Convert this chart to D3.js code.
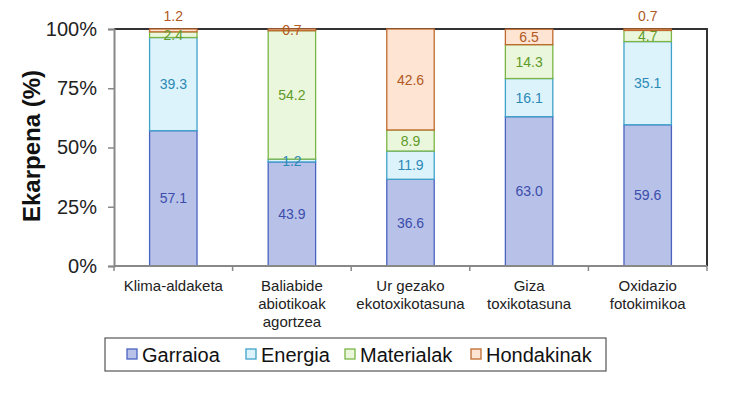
<!DOCTYPE html>
<html>
<head>
<meta charset="utf-8">
<script src="https://cdn.jsdelivr.net/npm/d3@7"></script>
<style>
  body { margin: 0; background: #fff; }
  svg { font-family: Arial, "Liberation Sans", sans-serif; }
</style>
</head>
<body>
<div id="chart"></div>
<script>
// categories and series (percent contribution)
const categories = ['Klima-aldaketa', 'Baliabide abiotikoak agortzea', 'Ur gezako ekotoxikotasuna', 'Giza toxikotasuna', 'Oxidazio fotokimikoa'];
const categoryLines = [['Klima-aldaketa'], ['Baliabide', 'abiotikoak', 'agortzea'], ['Ur gezako', 'ekotoxikotasuna'], ['Giza', 'toxikotasuna'], ['Oxidazio', 'fotokimikoa']];
const seriesNames = ['Garraioa', 'Energia', 'Materialak', 'Hondakinak'];
const garraioa = [57.1, 43.9, 36.6, 63.0, 59.6];
const energia = [39.3, 1.2, 11.9, 16.1, 35.1];
const materialak = [2.4, 54.2, 8.9, 14.3, 4.7];
const hondakinak = [1.2, 0.7, 42.6, 6.5, 0.7];
const yTicks = [0, 25, 50, 75, 100];
// labels drawn above the bar instead of centred in the segment
const labelAbove = ['Klima-aldaketa', 'Oxidazio fotokimikoa'];

const fills = ['#b8c1e8', '#ddf3fc', '#ebf7dc', '#fde4d3'];
const strokes = ['#4a63c0', '#3fa2c9', '#7ab545', '#c0692e'];
const labelColors = ['#3b4dab', '#2b89b6', '#5f9a2a', '#b2591f'];

const W = 748, H = 397;
const margin = {top: 29, right: 41, bottom: 131, left: 114};
const width = W - margin.left - margin.right;
const height = H - margin.top - margin.bottom;

const svg = d3.select('#chart')
  .append('svg')
    .attr('width', W)
    .attr('height', H);

const g = svg.append('g')
  .attr('transform', 'translate(' + margin.left + ',' + margin.top + ')');

const table = categories.map((c, i) => ({
  cat: c,
  Garraioa: garraioa[i],
  Energia: energia[i],
  Materialak: materialak[i],
  Hondakinak: hondakinak[i]
}));
const stacked = d3.stack().keys(seriesNames)(table);

const x = d3.scaleBand()
  .domain(categories)
  .range([0, width])
  .paddingInner(0)
  .paddingOuter(0);
const barW = x.bandwidth() * 0.4;

const y = d3.scaleLinear()
  .domain([0, 100])
  .range([height, 0]);

// plot frame (top and right dark)
g.append('path')
  .attr('d', 'M0,0H' + width + 'V' + height)
  .attr('fill', 'none')
  .attr('stroke', '#333')
  .attr('stroke-width', 2);

// bars
stacked.forEach((s, si) => {
  g.append('g')
    .selectAll('rect')
    .data(s)
    .enter()
    .append('rect')
      .attr('x', d => x(d.data.cat) + (x.bandwidth() - barW) / 2)
      .attr('y', d => y(Math.min(d[1], 100)))
      .attr('width', barW)
      .attr('height', d => y(d[0]) - y(Math.min(d[1], 100)))
      .attr('fill', fills[si])
      .attr('stroke', strokes[si])
      .attr('stroke-width', 1.3);
});

// value labels
stacked.forEach((s, si) => {
  g.append('g')
    .selectAll('text')
    .data(s)
    .enter()
    .append('text')
      .attr('x', d => x(d.data.cat) + x.bandwidth() / 2)
      .attr('y', d => {
        if (si === 3 && labelAbove.includes(d.data.cat)) return y(100) - 13;
        return y((d[0] + Math.min(d[1], 100)) / 2);
      })
      .attr('dy', '0.36em')
      .attr('text-anchor', 'middle')
      .attr('font-size', 14)
      .attr('fill', labelColors[si])
      .text(d => (d[1] - d[0]).toFixed(1));
});

// y axis
const yAxis = g.append('g')
  .call(d3.axisLeft(y).tickValues(yTicks).tickSize(6).tickPadding(11).tickFormat(d => d + '%'));
yAxis.select('.domain').attr('stroke', '#888').attr('stroke-width', 2);
yAxis.selectAll('.tick line').attr('stroke', '#888').attr('stroke-width', 1.5);
yAxis.selectAll('.tick text').attr('font-size', 20).attr('fill', '#222').attr('font-family', 'Arial, "Liberation Sans", sans-serif');

// x axis with ticks on category boundaries
const xAxis = g.append('g')
  .attr('transform', 'translate(0,' + height + ')');
xAxis.append('line')
  .attr('x1', 0).attr('x2', width)
  .attr('stroke', '#888').attr('stroke-width', 2);
xAxis.selectAll('.bound')
  .data(categories.concat(['end']))
  .enter()
  .append('line')
    .attr('x1', (d, i) => i * x.step())
    .attr('x2', (d, i) => i * x.step())
    .attr('y1', 0).attr('y2', 5)
    .attr('stroke', '#888').attr('stroke-width', 1.5);
xAxis.selectAll('.cat')
  .data(categoryLines)
  .enter()
  .append('text')
    .attr('text-anchor', 'middle')
    .attr('font-size', 15)
    .attr('fill', '#222')
    .attr('transform', (d, i) => 'translate(' + (x(categories[i]) + x.bandwidth() / 2) + ',25)')
    .selectAll('tspan')
    .data(d => d)
    .enter()
    .append('tspan')
      .attr('x', 0)
      .attr('y', (d, i) => i * 18)
      .text(d => d);

// y title
svg.append('text')
  .attr('transform', 'translate(40,146) rotate(-90)')
  .attr('text-anchor', 'middle')
  .attr('font-size', 24)
  .attr('font-weight', 'bold')
  .attr('fill', '#111')
  .text('Ekarpena (%)');

// legend
const legend = svg.append('g');
legend.append('rect')
  .attr('x', 105).attr('y', 338)
  .attr('width', 501).attr('height', 33)
  .attr('fill', '#fff')
  .attr('stroke', '#555')
  .attr('stroke-width', 1.2);
const legendX = [127, 246, 345, 471];
seriesNames.forEach((name, i) => {
  legend.append('rect')
    .attr('x', legendX[i]).attr('y', 349)
    .attr('width', 10).attr('height', 10)
    .attr('fill', fills[i])
    .attr('stroke', strokes[i])
    .attr('stroke-width', 1.3);
  legend.append('text')
    .attr('x', legendX[i] + 15).attr('y', 362)
    .attr('font-size', 20)
    .attr('fill', '#111')
    .text(name);
});
</script>
</body>
</html>
